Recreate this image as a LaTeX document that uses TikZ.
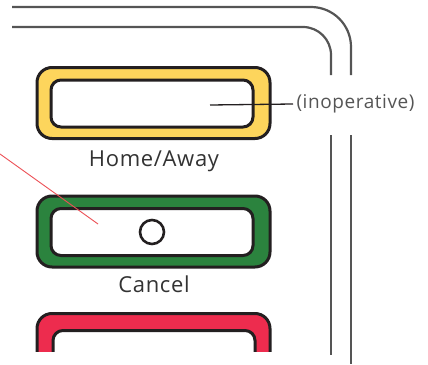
\documentclass[tikz,border=0pt]{standalone}
\usepackage{fontspec}
\setmainfont[LetterSpace=3]{Open Sans}
\usepackage{tikz}
\usetikzlibrary{positioning,calc}
\definecolor{framegray}{RGB}{85,85,85}
\definecolor{outline}{RGB}{35,31,32}
\definecolor{homeyellow}{RGB}{253,213,92}
\definecolor{cancelgreen}{RGB}{43,131,62}
\definecolor{stopred}{RGB}{237,44,78}
\definecolor{pointred}{RGB}{236,80,86}
\definecolor{labelgray}{RGB}{51,51,51}

\begin{document}
\begin{tikzpicture}[x=1pt, y=-1pt,
    every node/.style={font=\fontsize{22}{25}\selectfont, text=labelgray},
    btnouter/.style={draw=outline, line width=3pt, rounded corners=15pt,
      minimum width=233pt, minimum height=71pt, inner sep=0pt},
    btninner/.style={draw=outline, fill=white, line width=3pt, rounded corners=10pt,
      minimum width=202pt, minimum height=47pt, inner sep=0pt},
    frameline/.style={draw=framegray, line width=2.2pt}]
  \useasboundingbox (0,0) rectangle (428,364);
  % panel edges
  \draw[frameline, rounded corners=40pt] (12,7) -- (351,7) -- (351,75);
  \draw[frameline] (351,135) -- (351,364);
  \draw[frameline, rounded corners=28pt] (12,27) -- (331,27) -- (331,75);
  \draw[frameline] (331,135) -- (331,355);
  % home/away button
  \node[btnouter, fill=homeyellow] (homeout) at (153.5,103) {};
  \node[btninner] (homein) at (152,103.5) {};
  \node (homelbl) at (154,161) {Home/Away};
  \coordinate (homept) at (210,105);
  \node[anchor=west, text=framegray, font=\fontsize{19}{22}\selectfont] (inop) at (293,104) {(inoperative)};
  \draw[outline, line width=1.3pt] (homept) -- (inop.west);
  % cancel button
  \node[btnouter, fill=cancelgreen] (cancelout) at (153.5,231.5) {};
  \node[btninner] (cancelin) at (152,232) {};
  \node[draw=outline, line width=2.6pt, circle, minimum size=24pt, inner sep=0pt] (cancelmark) at (152,232) {};
  \node (cancellbl) at (154,284) {Cancel};
  % pointer
  \coordinate (ptrstart) at (0,154);
  \coordinate (ptrend) at (98,224);
  \draw[pointred, line width=0.9pt] (ptrstart) -- (ptrend);
  % stop button, cut off
  \begin{scope}
    \clip (0,0) rectangle (428,351);
    \node[btnouter, fill=stopred] (stopout) at (153.5,349) {};
    \node[btninner] (stopin) at (154,354) {};
  \end{scope}
\end{tikzpicture}
\end{document}
